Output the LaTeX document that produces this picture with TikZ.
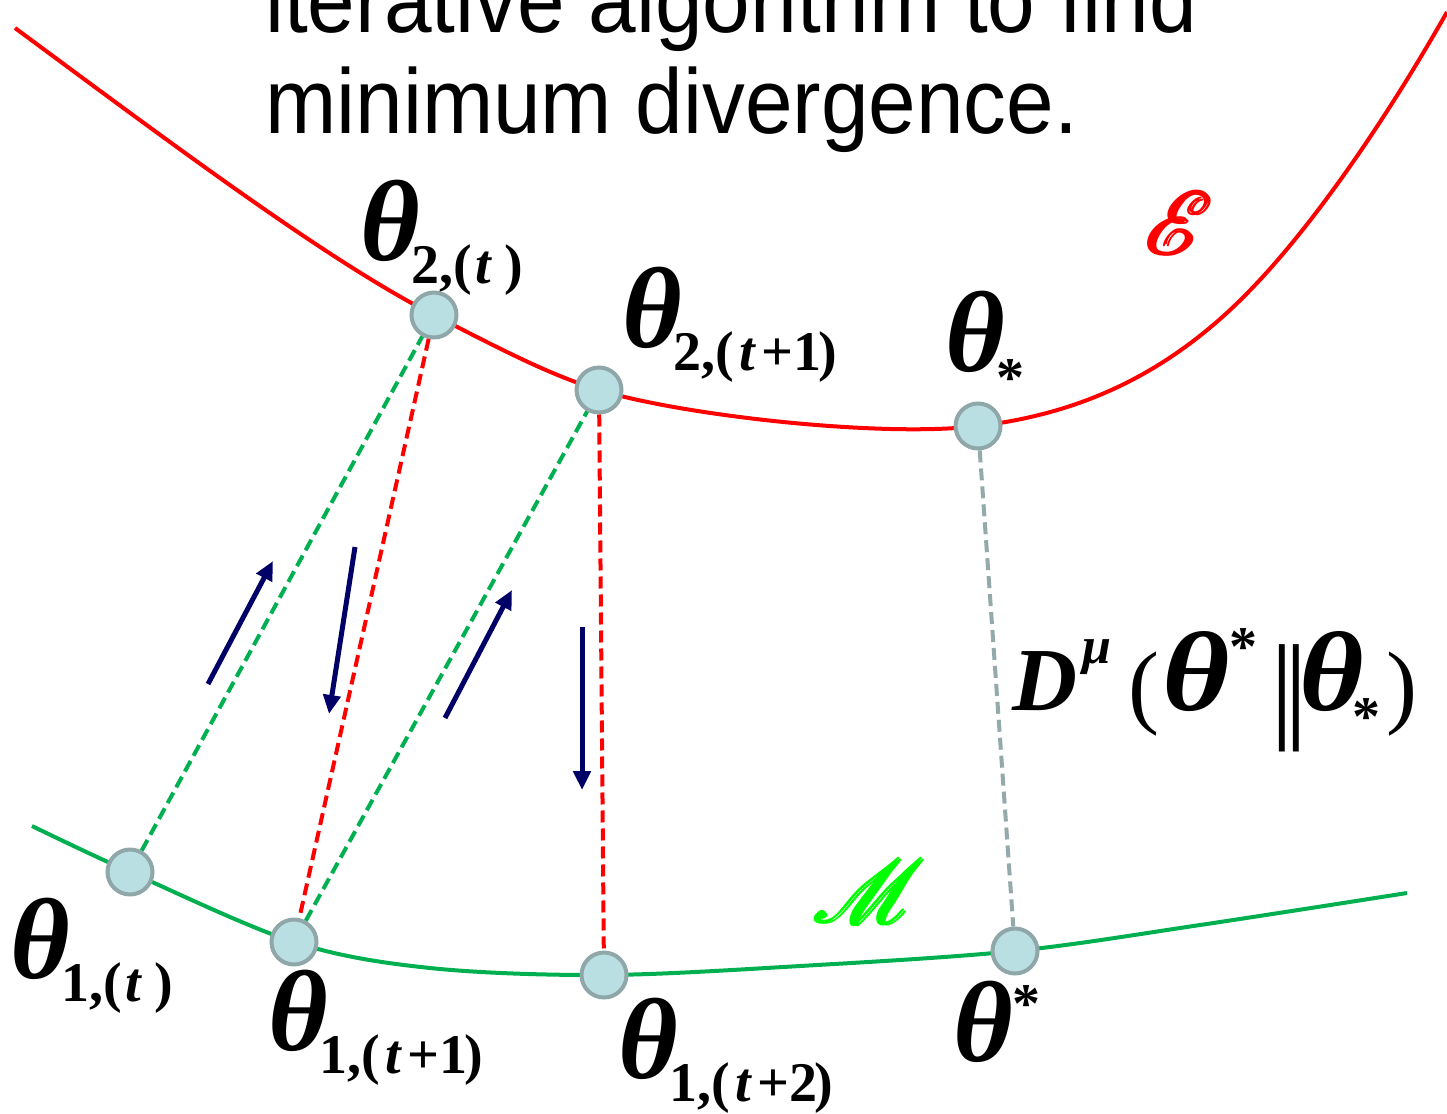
\documentclass[tikz,border=0pt]{standalone}
\usepackage{fontspec}
\usepackage{amsmath}
\usepackage{mathrsfs}
\usetikzlibrary{arrows.meta}
\setmainfont{Liberation Serif}
\newfontfamily\sansf{Liberation Sans}
\definecolor{redc}{HTML}{FF0000}
\definecolor{greenc}{HTML}{00B050}
\definecolor{limec}{HTML}{00FF00}
\definecolor{navyc}{HTML}{000066}
\definecolor{nodefill}{HTML}{BADFE2}
\definecolor{nodeedge}{HTML}{8FA7A8}
\definecolor{grayc}{HTML}{94A9AA}
\newcommand\thbig{{\fontsize{115}{115}\selectfont\bfseries\itshape θ}}
\newcommand\subsz{\fontsize{56}{56}\selectfont\bfseries\upshape}
\newcommand\thsub[1]{\thbig\kern-8pt\raisebox{-23pt}{\subsz #1}}
\newcommand\tit{\textit{t}}
\newcommand\putat[2]{\hbox to 0pt{\kern#1\relax#2\hss}}
\tikzset{
  pt/.style={circle, draw=nodeedge, fill=nodefill, line width=4pt, minimum size=45pt, inner sep=0pt},
  lab/.style={inner sep=0pt, anchor=base west},
  curveE/.style={redc, line width=4pt},
  curveM/.style={greenc, line width=4pt},
  dline/.style={line width=4pt, dash pattern=on 12pt off 6pt},
  move/.style={navyc, line width=5pt, -{Triangle[length=19pt,width=17pt]}},
  titletext/.style={inner sep=0pt, anchor=base west, font=\sansf\fontsize{92}{100}\selectfont}
}
\begin{document}
\begin{tikzpicture}[x=1pt,y=-1pt]
\useasboundingbox (0,0) rectangle (1447,1113);
\clip (0,0) rectangle (1447,1113);
% title
\node[titletext] (t1) at (265,33) {\scalebox{0.93}[1]{iterative algorithm to find}};
\node[titletext] (t2) at (265,133) {\scalebox{0.93}[1]{minimum divergence.}};
% points on the curves
\coordinate (cA) at (434,315);
\coordinate (cB) at (599,390);
\coordinate (cC) at (978,426);
% curve E
\draw[curveE] (15,28) .. controls (180,150) and (330,262) .. (cA)
  .. controls (500,349) and (550,375) .. (cB)
  .. controls (680,415) and (880,438) .. (cC)
  .. controls (1080,414) and (1160,375) .. (1230,310)
  .. controls (1300,245) and (1380,130) .. (1447,12);
% curve M
\draw[curveM] plot[smooth, tension=0.55] coordinates {(32,826) (130,872) (294,942) (430,968) (604,975) (800,966) (1015,951) (1200,925) (1407,893)};
% points
\node[pt] (A) at (cA) {};
\node[pt] (B) at (cB) {};
\node[pt] (C) at (cC) {};
\node[pt] (P) at (130,872) {};
\node[pt] (Q) at (294,942) {};
\node[pt] (R) at (604,975) {};
\node[pt] (S) at (1015,951) {};
% dashed projections
\draw[dline, greenc] (P) -- (A);
\draw[dline, redc] (A) -- (Q);
\draw[dline, greenc] (Q) -- (B);
\draw[dline, redc] (B) -- (R);
\draw[dline, grayc] (C) -- (S);
% direction arrows
\coordinate (a1s) at (208,684); \coordinate (a1e) at (273,561);
\coordinate (a2s) at (355,547); \coordinate (a2e) at (329,714);
\coordinate (a3s) at (445,718); \coordinate (a3e) at (512,590);
\coordinate (a4s) at (582,627); \coordinate (a4e) at (582,790);
\draw[move] (a1s) -- (a1e);
\draw[move] (a2s) -- (a2e);
\draw[move] (a3s) -- (a3e);
\draw[move] (a4s) -- (a4e);
% labels
\node[lab] (lA) at (360,260) {\thsub{2,(\kern3pt\tit\kern12pt)}};
\node[lab] (lB) at (622,347) {\thsub{2,(\kern5pt\tit\kern5pt+1\kern-3pt)}};
\node[lab] (lC) at (945,371) {\thbig\kern-8pt\raisebox{-25pt}{\subsz *}};
\node[lab] (lP) at (10,978) {\thsub{1,(\kern3pt\tit\kern12pt)}};
\node[lab] (lQ) at (268,1050) {\thsub{1,(\kern5pt\tit\kern5pt+1\kern-3pt)}};
\node[lab] (lR) at (618,1078) {\thsub{1,(\kern5pt\tit\kern5pt+2\kern-3pt)}};
\node[lab] (lS) at (953,1061) {\thbig\raisebox{39pt}{\subsz *}};
\node[lab] (lD) at (1012,710) {%
  \putat{0pt}{\fontsize{90}{90}\selectfont\bfseries\itshape D}%
  \putat{70pt}{\raisebox{47pt}{\fontsize{52}{52}\selectfont\bfseries\itshape μ}}%
  \putat{116pt}{\raisebox{-6pt}{\fontsize{93}{93}\selectfont (}}%
  \putat{150pt}{\scalebox{1.15}[1]{\fontsize{113}{113}\selectfont\bfseries\itshape θ}}%
  \putat{217pt}{\raisebox{45pt}{\subsz *}}%
  \putat{258pt}{\raisebox{-16pt}{\fontsize{118}{118}\selectfont |\kern-9pt|}}%
  \putat{287pt}{\scalebox{1.1}[1]{\fontsize{113}{113}\selectfont\bfseries\itshape θ}}%
  \putat{340pt}{\raisebox{-25pt}{\subsz *}}%
  \putat{374pt}{\raisebox{-6pt}{\fontsize{93}{93}\selectfont )}}%
  \kern405pt};
\node (E) at (1181,223) {\color{redc}\scalebox{3.6}{\fontsize{24.88}{30}\selectfont$\pmb{\mathscr{E}}$}};
\node (M) at (871,891) {\color{limec}\scalebox{3.6}{\fontsize{24.88}{30}\selectfont$\pmb{\mathscr{M}}$}};
\end{tikzpicture}
\end{document}
